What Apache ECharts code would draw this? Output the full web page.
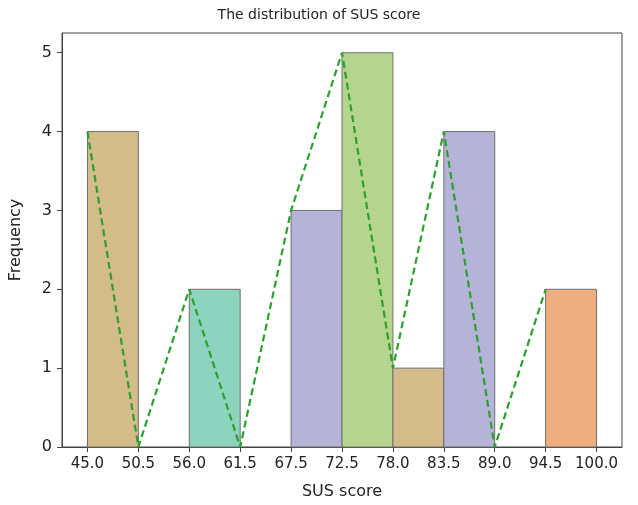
<!DOCTYPE html>
<html><head><meta charset="utf-8">
<script src="https://cdn.jsdelivr.net/npm/echarts@6/dist/echarts.min.js"></script>
<style>html,body{margin:0;padding:0;background:#fff}#c{width:638px;height:505px}</style>
</head><body><div id="c"></div>
<script>
const tickLabels = ['45.0','50.5','56.0','61.5','67.5','72.5','78.0','83.5','89.0','94.5','100.0'];
const binFreq = [4, 0, 2, 0, 3, 5, 1, 4, 0, 2];
const binColors = ['#d4bb8a','#ffffff','#8dd3bd','#ffffff','#b5b3d8','#b5d58f','#d4bb8a','#b5b3d8','#ffffff','#eeae80'];
const lineFreq = [4, 0, 2, 0, 3, 5, 1, 4, 0, 2];

const font = 'DejaVu Sans';
const barData = binFreq.map((v, i) => [i, i + 1, v]).filter(d => d[2] > 0);
const lineData = lineFreq.map((v, i) => [i, v]);
const xTicks = tickLabels.map((_, i) => i);

const chart = echarts.init(document.getElementById('c'), null, {renderer: 'canvas'});
chart.setOption({
  animation: false,
  title: {text: 'The distribution of SUS score', left: 'center', top: 3,
    textStyle: {fontFamily: font, fontSize: 14, fontWeight: 'normal', color: '#222'}},
  grid: {left: 58, right: 16, top: 33, bottom: 52, show: true, borderColor: '#444', borderWidth: 1, backgroundColor: 'transparent'},
  xAxis: {
    type: 'value', min: -0.5, max: 10.5,
    name: 'SUS score', nameLocation: 'middle', nameGap: 37,
    nameTextStyle: {fontFamily: font, fontSize: 16, color: '#222'},
    axisLine: {show: true, onZero: false, lineStyle: {color: '#444'}},
    axisTick: {show: true, length: 5, customValues: xTicks, lineStyle: {color: '#444'}},
    axisLabel: {customValues: xTicks, formatter: v => tickLabels[Math.round(v)], fontFamily: font, fontSize: 15, color: '#222', margin: 10},
    splitLine: {show: false}
  },
  yAxis: {
    type: 'value', min: 0, max: 5.25,
    name: 'Frequency', nameLocation: 'middle', nameGap: 38,
    nameTextStyle: {fontFamily: font, fontSize: 16, color: '#222'},
    axisLine: {show: true, onZero: false, lineStyle: {color: '#444'}},
    axisTick: {show: true, length: 5, customValues: [0,1,2,3,4,5], lineStyle: {color: '#444'}},
    axisLabel: {customValues: [0,1,2,3,4,5], fontFamily: font, fontSize: 16, color: '#222', margin: 10},
    splitLine: {show: false}
  },
  series: [
    {
      type: 'custom',
      data: barData,
      encode: {x: [0, 1], y: 2},
      renderItem: function (params, api) {
        const x0 = api.value(0), x1 = api.value(1), h = api.value(2);
        const p0 = api.coord([x0, 0]);
        const p1 = api.coord([x1, h]);
        return {
          type: 'rect',
          shape: {x: p0[0], y: p1[1], width: p1[0] - p0[0], height: p0[1] - p1[1]},
          style: {fill: binColors[x0], stroke: '#6f6f6f', lineWidth: 1}
        };
      },
      z: 2
    },
    {
      type: 'line',
      data: lineData,
      showSymbol: false,
      symbol: 'none',
      lineStyle: {color: '#2ca02c', width: 2.2, type: [7, 4]},
      z: 3
    }
  ]
});
</script></body></html>
